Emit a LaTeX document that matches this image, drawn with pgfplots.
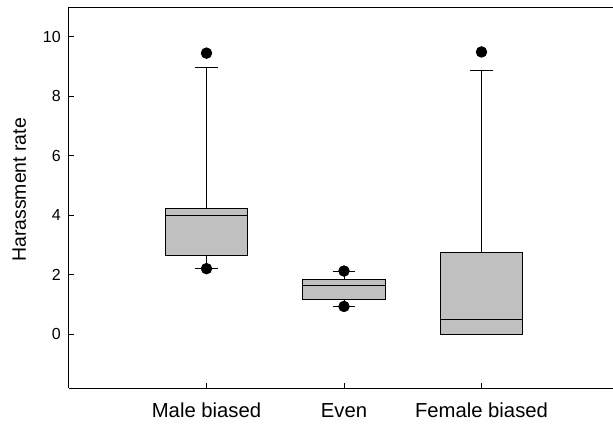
\documentclass[border=0pt]{standalone}
\usepackage{fontspec}
\setmainfont{Liberation Sans}
\usepackage{pgfplots}
\pgfplotsset{compat=1.18}
\usepgfplotslibrary{statistics}
\definecolor{boxgray}{RGB}{192,192,192}
\begin{document}
\begin{tikzpicture}
\begin{axis}[
  name=ax,
  scale only axis,
  width=412.5pt, height=285.75pt,
  xmin=0, xmax=4, ymin=-1.8, ymax=11,
  clip=false,
  axis x line*=bottom, axis y line*=left,
  axis line style={line width=0.75pt, -},
  xtick={1,2,3},
  xticklabels={Male biased, Even, Female biased},
  ytick={0,2,4,6,8,10},
  tick align=inside,
  major tick length=3.75pt,
  tick style={line width=0.75pt, black},
  /pgf/number format/assume math mode=true,
  yticklabel style={font=\fontsize{12}{14}\selectfont, anchor=east, inner sep=0pt, xshift=-6pt},
  xticklabel style={font=\fontsize{15.2}{18}\selectfont, anchor=base, yshift=-21.75pt},
  ylabel={Harassment rate},
  ylabel style={font=\fontsize{14.6}{18}\selectfont, at={(axis description cs:-0.0782,0.52)}, anchor=base},
  boxplot/draw direction=y,
  boxplot/box extend=0.6,
  boxplot/whisker extend=0.165,
  every axis plot/.append style={line width=0.75pt},
]
\pgfplotsset{
  boxes/.style={draw=black, fill=boxgray, solid, mark=*, mark size=3.9pt,
    mark options={draw=black, fill=black}},
}
% Male biased
\addplot[boxes, boxplot prepared={draw position=1,
  lower whisker=2.21, lower quartile=2.66, median=3.99,
  upper quartile=4.24, upper whisker=8.96}]
  coordinates {(0,9.45) (0,2.21)};
% Even
\addplot[boxes, boxplot prepared={draw position=2,
  lower whisker=0.94, lower quartile=1.17, median=1.65,
  upper quartile=1.85, upper whisker=2.13}]
  coordinates {(0,2.13) (0,0.94)};
% Female biased
\addplot[boxes, boxplot prepared={draw position=3,
  lower whisker=0.0, lower quartile=0.0, median=0.49,
  upper quartile=2.75, upper whisker=8.88}]
  coordinates {(0,9.49)};
% top frame line
\draw[line width=0.75pt] (rel axis cs:0,1) -- (rel axis cs:1,1);
\end{axis}
\pgfresetboundingbox
\path ([shift={(-51.75pt,-28.5pt)}]ax.south west) rectangle ([shift={(-4.5pt,5.25pt)}]ax.north east);
\end{tikzpicture}
\end{document}
